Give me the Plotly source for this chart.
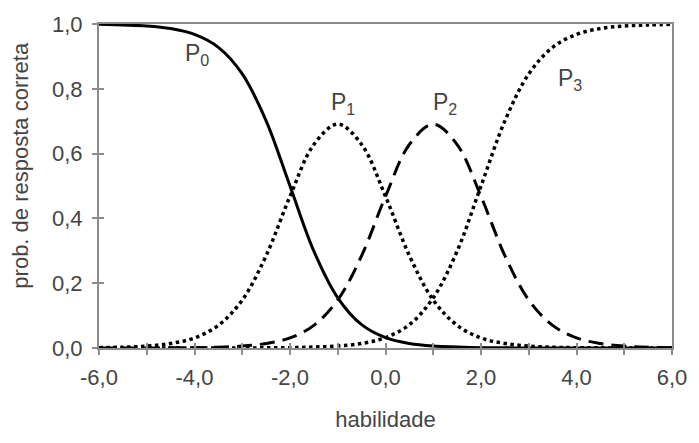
import plotly.graph_objects as go

theta = [-6.0, -5.5, -5.0, -4.5, -4.0, -3.5, -3.0, -2.5, -2.0, -1.5, -1.0, -0.5,
         0.0, 0.5, 1.0, 1.5, 2.0, 2.5, 3.0, 3.5, 4.0, 4.5, 5.0, 5.5, 6.0]

p0 = [0.999, 0.997, 0.994, 0.986, 0.968, 0.928, 0.846, 0.701, 0.500, 0.299, 0.155, 0.072,
      0.032, 0.014, 0.006, 0.003, 0.001, 0.0005, 0.0002, 0.0001, 0.0, 0.0, 0.0, 0.0, 0.0]
p1 = [0.001, 0.0025, 0.006, 0.014, 0.031, 0.070, 0.148, 0.285, 0.468, 0.628, 0.691, 0.628,
      0.468, 0.285, 0.148, 0.070, 0.031, 0.014, 0.006, 0.0025, 0.001, 0.0005, 0.0002, 0.0001, 0.0]
p2 = [0.0, 0.0001, 0.0002, 0.0005, 0.001, 0.0025, 0.006, 0.014, 0.031, 0.070, 0.148, 0.285,
      0.468, 0.628, 0.691, 0.628, 0.468, 0.285, 0.148, 0.070, 0.031, 0.014, 0.006, 0.0025, 0.001]
p3 = [0.0, 0.0, 0.0, 0.0, 0.0, 0.0001, 0.0002, 0.0005, 0.001, 0.003, 0.006, 0.014,
      0.032, 0.072, 0.155, 0.299, 0.500, 0.701, 0.846, 0.928, 0.968, 0.986, 0.994, 0.997, 0.999]

x_ticks = [-6, -4, -2, 0, 2, 4, 6]
x_tick_labels = ["-6,0", "-4,0", "-2,0", "0,0", "2,0", "4,0", "6,0"]
y_ticks = [0, 0.2, 0.4, 0.6, 0.8, 1.0]
y_tick_labels = ["0,0", "0,2", "0,4", "0,6", "0,8", "1,0"]

labels = [("P<sub>0</sub>", -3.95, 0.905), ("P<sub>1</sub>", -0.88, 0.755),
          ("P<sub>2</sub>", 1.25, 0.755), ("P<sub>3</sub>", 3.87, 0.83)]

x_title = "habilidade"
y_title = "prob. de resposta correta"

FONT = "Liberation Sans, Arial, sans-serif"
TXT = "#444444"
GREY = "#8c8c8c"

fig = go.Figure()
styles = [(p0, "solid", 3), (p1, "dot", 3.5), (p2, "15px,8px", 3), (p3, "dot", 3.5)]
for ys, dash, w in styles:
    fig.add_trace(go.Scatter(x=theta, y=ys, mode="lines",
                             line=dict(color="black", width=w, dash=dash, shape="spline"),
                             showlegend=False, hoverinfo="skip"))

# invisible trace so that inner-tick overlay axes are drawn
fig.add_trace(go.Scatter(x=[None], y=[None], xaxis="x2", yaxis="y2",
                         showlegend=False, hoverinfo="skip"))

for text, xv, yv in labels:
    fig.add_annotation(x=xv, y=yv, text=text, showarrow=False,
                       font=dict(family=FONT, size=23, color=TXT))

fig.add_annotation(x=-0.136, y=0.563, xref="paper", yref="paper", text=y_title,
                   textangle=-90, showarrow=False, xanchor="center", yanchor="middle",
                   font=dict(family=FONT, size=22, color=TXT))

fig.update_layout(
    width=699, height=443,
    margin=dict(l=99, r=21, t=16, b=95),
    paper_bgcolor="white", plot_bgcolor="white",
    font=dict(family=FONT, size=22, color=TXT),
    xaxis=dict(range=[-6, 6], tickvals=x_ticks, ticktext=x_tick_labels,
               showgrid=False, zeroline=False, showline=True, linecolor=GREY,
               linewidth=2, mirror=True, ticks="outside", ticklen=5, tickwidth=1.5,
               tickcolor=GREY, ticklabelstandoff=4,
               minor=dict(dtick=1, ticks="outside", ticklen=5, tickwidth=1.5, tickcolor=GREY),
               title=dict(text=x_title, standoff=22,
                          font=dict(family=FONT, size=22, color=TXT)),
               tickfont=dict(family=FONT, size=22, color=TXT)),
    yaxis=dict(range=[0, 1.0], tickvals=y_ticks, ticktext=y_tick_labels,
               showgrid=False, zeroline=False, showline=True, linecolor=GREY,
               linewidth=2, mirror=True, ticks="outside", ticklen=5, tickwidth=1.5,
               tickcolor=GREY, ticklabelstandoff=5,
               tickfont=dict(family=FONT, size=22, color=TXT)),
    xaxis2=dict(overlaying="x", matches="x", range=[-6, 6], tickvals=x_ticks,
                showticklabels=False, showgrid=False, zeroline=False, showline=False,
                ticks="inside", ticklen=5, tickwidth=1.5, tickcolor=GREY,
                minor=dict(dtick=1, ticks="inside", ticklen=5, tickwidth=1.5, tickcolor=GREY)),
    yaxis2=dict(overlaying="y", matches="y", range=[0, 1.0], tickvals=y_ticks,
                showticklabels=False, showgrid=False, zeroline=False, showline=False,
                ticks="inside", ticklen=5, tickwidth=1.5, tickcolor=GREY),
)

fig.write_html("out.html")
